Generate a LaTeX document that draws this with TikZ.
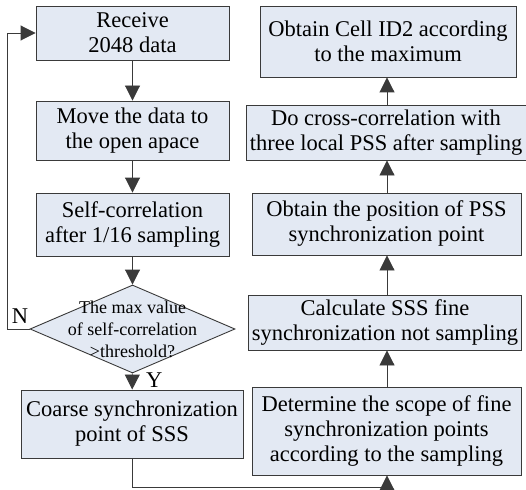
\documentclass[tikz,border=0pt]{standalone}
\usepackage{fontspec}
\setmainfont{Liberation Serif}
\usetikzlibrary{shapes.geometric,arrows.meta}
\definecolor{boxfill}{HTML}{E3E9F3}
\definecolor{lineclr}{HTML}{3A3A3A}

\tikzset{
  flowbox/.style={draw=lineclr, line width=0.9pt, fill=boxfill, align=center,
    inner sep=1pt, font=\fontsize{22.5}{25}\selectfont},
  flowarrow/.style={draw=lineclr, line width=0.9pt, arrows={-Triangle[length=15pt,width=15pt]}},
}

\begin{document}
\begin{tikzpicture}[x=1pt,y=-1pt]
		\useasboundingbox (0,0) rectangle (526,489);
		% left column
		\node[flowbox, minimum width=193pt, minimum height=54pt] (recv) at (132.5,33) {Receive\\2048 data};
		\node[flowbox, minimum width=193pt, minimum height=59pt] (move) at (132.5,130.5) {Move the data to\\the open apace};
		\node[flowbox, minimum width=193pt, minimum height=63pt] (self) at (132.5,224.5) {Self-correlation\\after 1/16 sampling};
		\node[diamond, draw=lineclr, line width=0.9pt, fill=boxfill, inner sep=0pt,
		      minimum width=205pt, minimum height=88pt] (dec) at (132.5,329) {};
		\node[align=center, font=\fontsize{18}{22}\selectfont] (dectext) at (dec.center) {The max value\\of self-correlation\\>threshold?};
		\node[flowbox, minimum width=222pt, minimum height=68pt] (coarse) at (132,424) {Coarse synchronization\\point of SSS};
		% right column
		\node[flowbox, minimum width=256pt, minimum height=71pt] (cellid) at (388,41.5) {Obtain Cell ID2 according\\to the maximum};
		\node[flowbox, minimum width=280pt, minimum height=55pt] (cross) at (386,132.5) {Do cross-correlation with\\three local PSS after sampling};
		\node[flowbox, minimum width=269pt, minimum height=62pt] (pos) at (386.5,224) {Obtain the position of PSS\\synchronization point};
		\node[flowbox, minimum width=273pt, minimum height=55pt] (calc) at (385,322.5) {Calculate SSS fine\\synchronization not sampling};
		\node[flowbox, minimum width=269pt, minimum height=88pt] (scope) at (386.5,431) {Determine the scope of fine\\synchronization points\\according to the sampling};
		\coordinate (loopleft) at (7,329);
		\coordinate (loopbottom) at (132,487);
		% connectors
		\draw[flowarrow] (recv) -- (move);
		\draw[flowarrow] (move) -- (self);
		\draw[flowarrow] (self) -- (dec);
		\draw[flowarrow] (dec) -- node[right, pos=0.4, xshift=10pt, font=\fontsize{22.5}{25}\selectfont] {Y} (coarse);
		\draw[flowarrow] (dec.west) -- (loopleft) -- (loopleft |- recv.west) -- (recv.west);
		\node[font=\fontsize{22.5}{25}\selectfont] (nlabel) at (20,316) {N};
		\draw[flowarrow] (coarse.south) -- (loopbottom) -| (scope.south -| 387,0);
		\draw[flowarrow] (scope.north -| 387,0) -- (calc.south -| 387,0);
		\draw[flowarrow] (calc.north -| 387,0) -- (pos.south -| 387,0);
		\draw[flowarrow] (pos.north -| 387,0) -- (cross.south -| 387,0);
		\draw[flowarrow] (cross.north -| 387,0) -- (cellid.south -| 387,0);
\end{tikzpicture}
\end{document}
